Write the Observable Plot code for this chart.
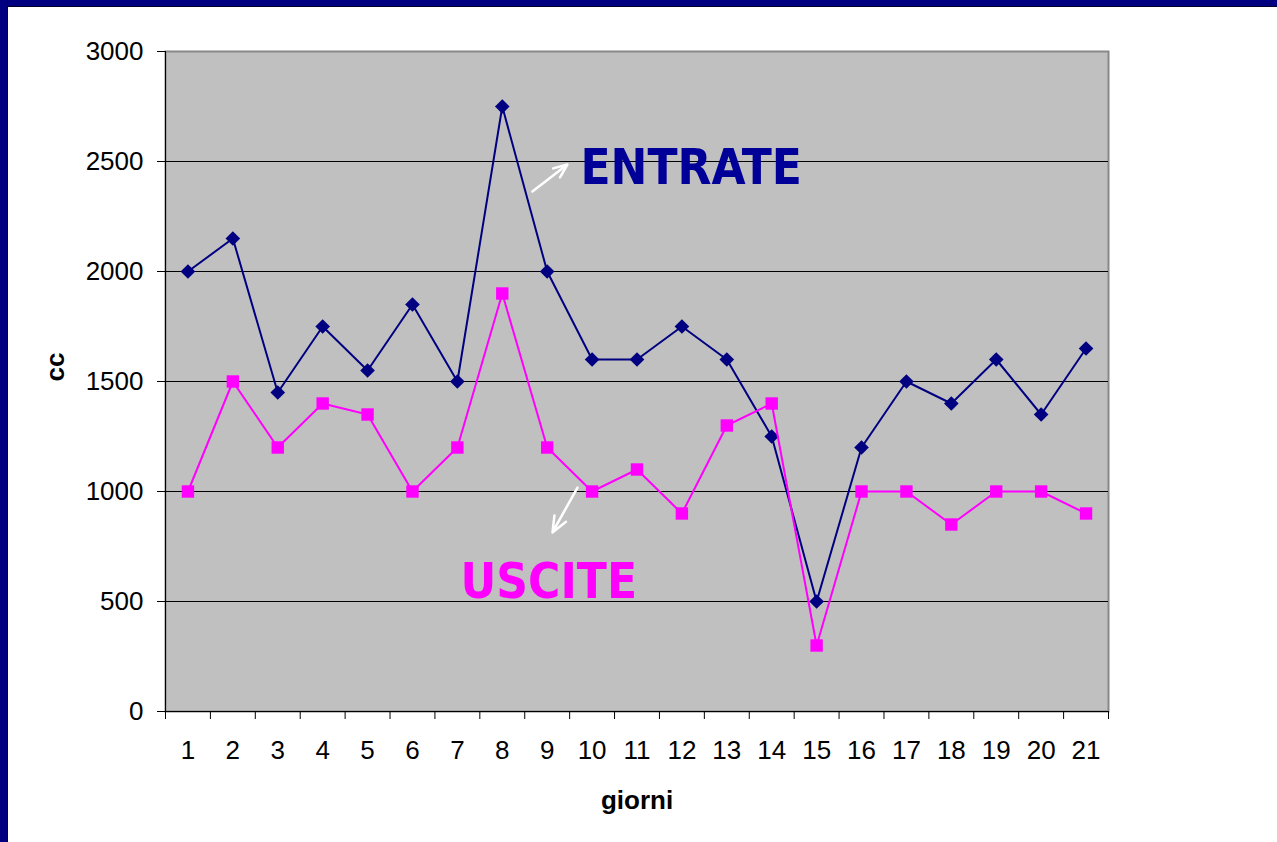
<!DOCTYPE html>
<html>
<head>
<meta charset="utf-8">
<script src="https://cdn.jsdelivr.net/npm/d3@7"></script>
<script src="https://cdn.jsdelivr.net/npm/@observablehq/plot@0.6"></script>
<style>
  html, body { margin: 0; padding: 0; background: #ffffff; width: 1277px; height: 842px; overflow: hidden; }
  #chart { position: absolute; left: 0; top: 0; }
  .bar-top { position: absolute; left: 0; top: 0; width: 1277px; height: 6px; background: #000080; border-bottom: 1px solid #00002a; }
  .bar-left { position: absolute; left: 0; top: 0; width: 7px; height: 842px; background: #000080; border-right: 1px solid #00002a; }
</style>
</head>
<body>
<div id="chart"></div>
<div class="bar-top"></div>
<div class="bar-left"></div>
<script>
// ---- data ----
const days = [1, 2, 3, 4, 5, 6, 7, 8, 9, 10, 11, 12, 13, 14, 15, 16, 17, 18, 19, 20, 21];
const entrate = [2000, 2150, 1450, 1750, 1550, 1850, 1500, 2750, 2000, 1600, 1600, 1750, 1600, 1250, 500, 1200, 1500, 1400, 1600, 1350, 1650];
const uscite = [1000, 1500, 1200, 1400, 1350, 1000, 1200, 1900, 1200, 1000, 1100, 900, 1300, 1400, 300, 1000, 1000, 850, 1000, 1000, 900];
const yTicks = [0, 500, 1000, 1500, 2000, 2500, 3000];
const seriesNames = ["ENTRATE", "USCITE"];
const xTitle = "giorni";
const yTitle = "cc";
// annotation anchors, in data units (day, cc)
const labelX = [9.74, 7.07];
const labelY = [2400, 514];
const arrowFrom = [[8.67, 2364], [9.675, 1018]];
const arrowTo = [[9.45, 2486], [9.118, 814]];

// ---- derived tables ----
const table = days.map((d, i) => ({day: d, entrate: entrate[i], uscite: uscite[i]}));
const boundaries = days.map(d => d - 0.5).concat([days[days.length - 1] + 0.5]);
const labels = seriesNames.map((name, i) => ({name, x: labelX[i], y: labelY[i]}));
const arrows = arrowFrom.map((f, i) => ({x1: f[0], y1: f[1], x2: arrowTo[i][0], y2: arrowTo[i][1]}));

const NAVY = "#000080";
const MAGENTA = "#FF00FF";

const chart = Plot.plot({
  width: 1277,
  height: 842,
  marginLeft: 165,
  marginRight: 169,
  marginTop: 51,
  marginBottom: 131,
  x: {domain: [0.5, 21.5]},
  y: {domain: [0, 3000]},
  style: {fontFamily: "'Liberation Sans', Arial, sans-serif", fontSize: "26px", background: "transparent", color: "black"},
  marks: [
    Plot.frame({fill: "#C0C0C0", stroke: "#888888", strokeWidth: 2}),
    Plot.gridY(yTicks.slice(1, -1), {stroke: "black", strokeOpacity: 1, strokeWidth: 1}),
    Plot.ruleX([0.5], {stroke: "black", strokeWidth: 1}),
    Plot.ruleY([0], {stroke: "black", strokeWidth: 1}),
    Plot.axisY(yTicks, {tickSize: 8, tickPadding: 14, fontSize: 26, label: null, stroke: "black", tickFormat: d => String(d)}),
    Plot.axisX(boundaries, {tickSize: 8, tickFormat: () => "", label: null, stroke: "black"}),
    Plot.axisX(days, {tickSize: 0, tickPadding: 29, fontSize: 26, label: null, tickFormat: d => String(d)}),
    Plot.text([xTitle], {text: d => d, frameAnchor: "bottom", dy: 97, lineAnchor: "bottom", fontWeight: "bold", fontSize: 26}),
    Plot.text([yTitle], {text: d => d, frameAnchor: "left", dx: -110, rotate: -90, fontWeight: "bold", fontSize: 26}),
    Plot.line(table, {x: "day", y: "entrate", stroke: NAVY, strokeWidth: 2}),
    Plot.dot(table, {x: "day", y: "entrate", symbol: "diamond2", r: 6.6, fill: NAVY, stroke: "none"}),
    Plot.line(table, {x: "day", y: "uscite", stroke: MAGENTA, strokeWidth: 2}),
    Plot.dot(table, {x: "day", y: "uscite", symbol: "square", r: 7, fill: MAGENTA, stroke: "none"}),
    Plot.arrow(arrows, {x1: "x1", y1: "y1", x2: "x2", y2: "y2", stroke: "white", strokeWidth: 2.5, headLength: 14, headAngle: 45}),
    Plot.text(labels, {x: "x", y: "y", text: "name", textAnchor: "start", lineAnchor: "bottom",
      fill: (d, i) => i === 0 ? "#000099" : MAGENTA,
      fontFamily: "'DejaVu Sans Condensed', Tahoma, Verdana, sans-serif", fontWeight: "bold", fontSize: 49})
  ]
});
document.getElementById("chart").appendChild(chart);
</script>
</body>
</html>
